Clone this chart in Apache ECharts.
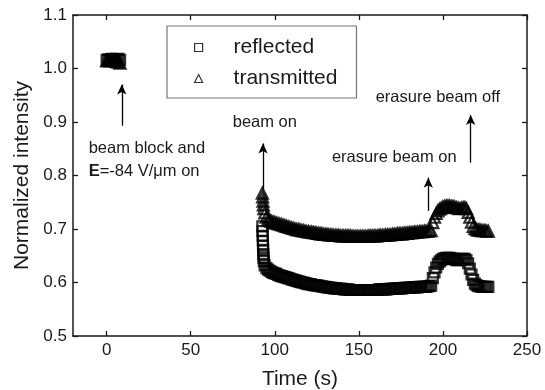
<!DOCTYPE html>
<html>
<head>
<meta charset="utf-8">
<script src="https://cdn.jsdelivr.net/npm/echarts@6/dist/echarts.min.js"></script>
<style>
  html, body { margin: 0; padding: 0; background: #fff; }
  #chart { width: 545px; height: 390px; }
</style>
</head>
<body>
<div id="chart"></div>
<script>
// tick values
const xTicks = [0, 50, 100, 150, 200, 250]

// before beam on (t = 0..8 s)
const startTime = [0, 1, 2, 3, 4, 5, 6, 7, 8]
const startReflected = [1.016, 1.017, 1.016, 1.018, 1.017, 1.016, 1.017, 1.018, 1.016]
const startTransmitted = [1.014, 1.015, 1.014, 1.016, 1.015, 1.014, 1.013, 1.012, 1.010]

// the jump right when the beam is switched on (t ~ 93 s)
const jumpTimeReflected = [92.6, 92.7, 92.8, 92.9, 93.0, 93.1, 93.2, 93.3, 93.5]
const jumpReflected = [0.705, 0.696, 0.687, 0.678, 0.669, 0.661, 0.653, 0.646, 0.640]
const jumpTimeTransmitted = [92.6, 92.8, 93.0, 93.2, 93.5]
const jumpTransmitted = [0.767, 0.760, 0.752, 0.745, 0.738]

// after beam on, one sample per second (t = 94..227 s)
const time = [
  94, 95, 96, 97, 98, 99, 100, 101, 102, 103,
  104, 105, 106, 107, 108, 109, 110, 111, 112, 113,
  114, 115, 116, 117, 118, 119, 120, 121, 122, 123,
  124, 125, 126, 127, 128, 129, 130, 131, 132, 133,
  134, 135, 136, 137, 138, 139, 140, 141, 142, 143,
  144, 145, 146, 147, 148, 149, 150, 151, 152, 153,
  154, 155, 156, 157, 158, 159, 160, 161, 162, 163,
  164, 165, 166, 167, 168, 169, 170, 171, 172, 173,
  174, 175, 176, 177, 178, 179, 180, 181, 182, 183,
  184, 185, 186, 187, 188, 189, 190, 191, 192, 193,
  194, 195, 196, 197, 198, 199, 200, 201, 202, 203,
  204, 205, 206, 207, 208, 209, 210, 211, 212, 213,
  214, 215, 216, 217, 218, 219, 220, 221, 222, 223,
  224, 225, 226, 227
]
const reflected = [
  0.632, 0.627, 0.624, 0.622, 0.620, 0.618, 0.617, 0.616, 0.614, 0.613,
  0.612, 0.611, 0.610, 0.609, 0.608, 0.607, 0.606, 0.605, 0.604, 0.603,
  0.602, 0.601, 0.600, 0.600, 0.599, 0.598, 0.597, 0.597, 0.596, 0.595,
  0.595, 0.594, 0.594, 0.593, 0.593, 0.592, 0.592, 0.591, 0.591, 0.590,
  0.590, 0.589, 0.589, 0.589, 0.588, 0.588, 0.588, 0.587, 0.587, 0.587,
  0.587, 0.586, 0.586, 0.586, 0.586, 0.586, 0.586, 0.586, 0.586, 0.586,
  0.586, 0.586, 0.586, 0.586, 0.586, 0.586, 0.586, 0.586, 0.587, 0.587,
  0.587, 0.587, 0.587, 0.587, 0.588, 0.588, 0.588, 0.588, 0.589, 0.589,
  0.589, 0.589, 0.589, 0.590, 0.590, 0.590, 0.590, 0.591, 0.591, 0.591,
  0.591, 0.591, 0.592, 0.592, 0.592, 0.592, 0.592, 0.593, 0.593, 0.594,
  0.608, 0.619, 0.628, 0.635, 0.639, 0.642, 0.644, 0.645, 0.646, 0.646,
  0.646, 0.645, 0.644, 0.643, 0.642, 0.642, 0.643, 0.644, 0.644, 0.644,
  0.642, 0.636, 0.626, 0.615, 0.605, 0.598, 0.595, 0.593, 0.593, 0.592,
  0.592, 0.592, 0.592, 0.592
]
const transmitted = [
  0.730, 0.722, 0.718, 0.716, 0.714, 0.713, 0.712, 0.711, 0.710, 0.709,
  0.708, 0.707, 0.706, 0.705, 0.704, 0.703, 0.702, 0.701, 0.700, 0.699,
  0.699, 0.698, 0.697, 0.697, 0.696, 0.695, 0.695, 0.694, 0.694, 0.693,
  0.693, 0.692, 0.692, 0.691, 0.691, 0.690, 0.690, 0.690, 0.689, 0.689,
  0.689, 0.688, 0.688, 0.688, 0.688, 0.687, 0.687, 0.687, 0.687, 0.687,
  0.687, 0.687, 0.686, 0.686, 0.686, 0.686, 0.686, 0.686, 0.686, 0.686,
  0.686, 0.686, 0.687, 0.687, 0.687, 0.687, 0.687, 0.687, 0.688, 0.688,
  0.688, 0.688, 0.689, 0.689, 0.689, 0.689, 0.690, 0.690, 0.690, 0.691,
  0.691, 0.691, 0.691, 0.692, 0.692, 0.692, 0.693, 0.693, 0.693, 0.694,
  0.694, 0.694, 0.695, 0.695, 0.695, 0.696, 0.696, 0.696, 0.697, 0.697,
  0.712, 0.722, 0.729, 0.734, 0.737, 0.739, 0.741, 0.742, 0.743, 0.743,
  0.743, 0.742, 0.742, 0.741, 0.740, 0.739, 0.738, 0.739, 0.740, 0.740,
  0.738, 0.731, 0.722, 0.713, 0.705, 0.701, 0.699, 0.698, 0.698, 0.697,
  0.697, 0.697, 0.696, 0.696
]

// annotation arrows: [x, yFrom, yTo]
const arrows = [
  [9, 0.893, 0.970],
  [93, 0.774, 0.860],
  [191.3, 0.734, 0.796],
  [216.5, 0.824, 0.913]
]
// annotation texts: [x(left), y(middle), text]
const notes = [
  [-10.7, 0.851, 'beam block and'],
  [-10.7, 0.808, '{b|E}=-84 V/\u03bcm on'],
  [75, 0.899, 'beam on'],
  [134, 0.834, 'erasure beam on'],
  [160, 0.945, 'erasure beam off']
]

const pairs = (xs, ys) => xs.map((x, i) => [x, ys[i]])
const reflectedData = pairs(startTime, startReflected)
  .concat(pairs(jumpTimeReflected, jumpReflected))
  .concat(pairs(time, reflected))
const transmittedData = pairs(startTime, startTransmitted)
  .concat(pairs(jumpTimeTransmitted, jumpTransmitted))
  .concat(pairs(time, transmitted))

const FONT = 'Liberation Sans, Arial, sans-serif'
const INK = '#1a1a1a'

const chart = echarts.init(document.getElementById('chart'), null, { renderer: 'canvas' })

const xBase = {
  type: 'value', min: -20, max: 250,
  axisLine: { show: true, onZero: false, lineStyle: { color: INK, width: 1.5 } },
  axisTick: { show: true, inside: true, length: 5, customValues: xTicks, lineStyle: { color: INK, width: 1.3 } },
  splitLine: { show: false }
}
const yBase = {
  type: 'value', min: 0.5, max: 1.1, interval: 0.1,
  axisLine: { show: true, onZero: false, lineStyle: { color: INK, width: 1.5 } },
  axisTick: { show: true, inside: true, length: 5, lineStyle: { color: INK, width: 1.3 } },
  splitLine: { show: false }
}

// hollow markers; drawn densely they merge into the black bands
const markerStyle = { color: 'rgba(255,255,255,0)', borderColor: '#000', borderWidth: 2.2 }

chart.setOption({
  backgroundColor: '#fff',
  animation: false,
  textStyle: { fontFamily: FONT },
  grid: { left: 73, right: 18, top: 15, bottom: 54, outerBoundsMode: 'none' },
  legend: {
    left: 167, top: 26,
    orient: 'vertical',
    data: ['reflected', 'transmitted'],
    borderColor: '#777', borderWidth: 1.2,
    padding: [11, 19, 9, 27],
    itemGap: 10,
    itemWidth: 8, itemHeight: 8,
    itemStyle: { borderWidth: 1.2 },
    textStyle: { fontSize: 21, color: INK, fontFamily: FONT, padding: [0, 0, 0, 26] }
  },
  xAxis: [
    Object.assign({}, xBase, {
      position: 'bottom',
      name: 'Time (s)', nameLocation: 'middle', nameGap: 33,
      nameTextStyle: { fontSize: 21, color: INK },
      axisLabel: { show: true, customValues: xTicks, fontSize: 17, color: INK, margin: 6 }
    }),
    Object.assign({}, xBase, { position: 'top', axisLabel: { show: false } })
  ],
  yAxis: [
    Object.assign({}, yBase, {
      position: 'left',
      name: 'Normalized intensity', nameLocation: 'middle', nameGap: 40,
      nameTextStyle: { fontSize: 21, color: INK },
      axisLabel: { fontSize: 17, color: INK, margin: 6, formatter: v => v.toFixed(1) }
    }),
    Object.assign({}, yBase, { position: 'right', axisLabel: { show: false } })
  ],
  series: [
    {
      name: 'reflected', type: 'scatter',
      symbol: 'rect', symbolSize: 10,
      itemStyle: markerStyle,
      data: reflectedData
    },
    {
      name: 'transmitted', type: 'scatter',
      symbol: 'triangle', symbolSize: 11,
      itemStyle: markerStyle,
      data: transmittedData,
      markLine: {
        silent: true,
        symbol: ['none', 'arrow'],
        symbolSize: [7, 10],
        lineStyle: { color: '#000', width: 1.3, type: 'solid' },
        label: { show: false },
        data: arrows.map(a => [{ coord: [a[0], a[1]] }, { coord: [a[0], a[2]] }])
      }
    }
  ]
})

// annotation text placed through the chart's own scales
chart.setOption({
  graphic: notes.map(n => {
    const p = chart.convertToPixel({ gridIndex: 0 }, [n[0], n[1]])
    return {
      type: 'text', x: p[0], y: p[1], silent: true,
      style: {
        text: n[2], fill: INK, font: '16.5px ' + FONT,
        verticalAlign: 'middle', align: 'left',
        rich: { b: { fontWeight: 'bold', fontSize: 16.5, fill: INK, fontFamily: FONT } }
      }
    }
  })
})
</script>
</body>
</html>
